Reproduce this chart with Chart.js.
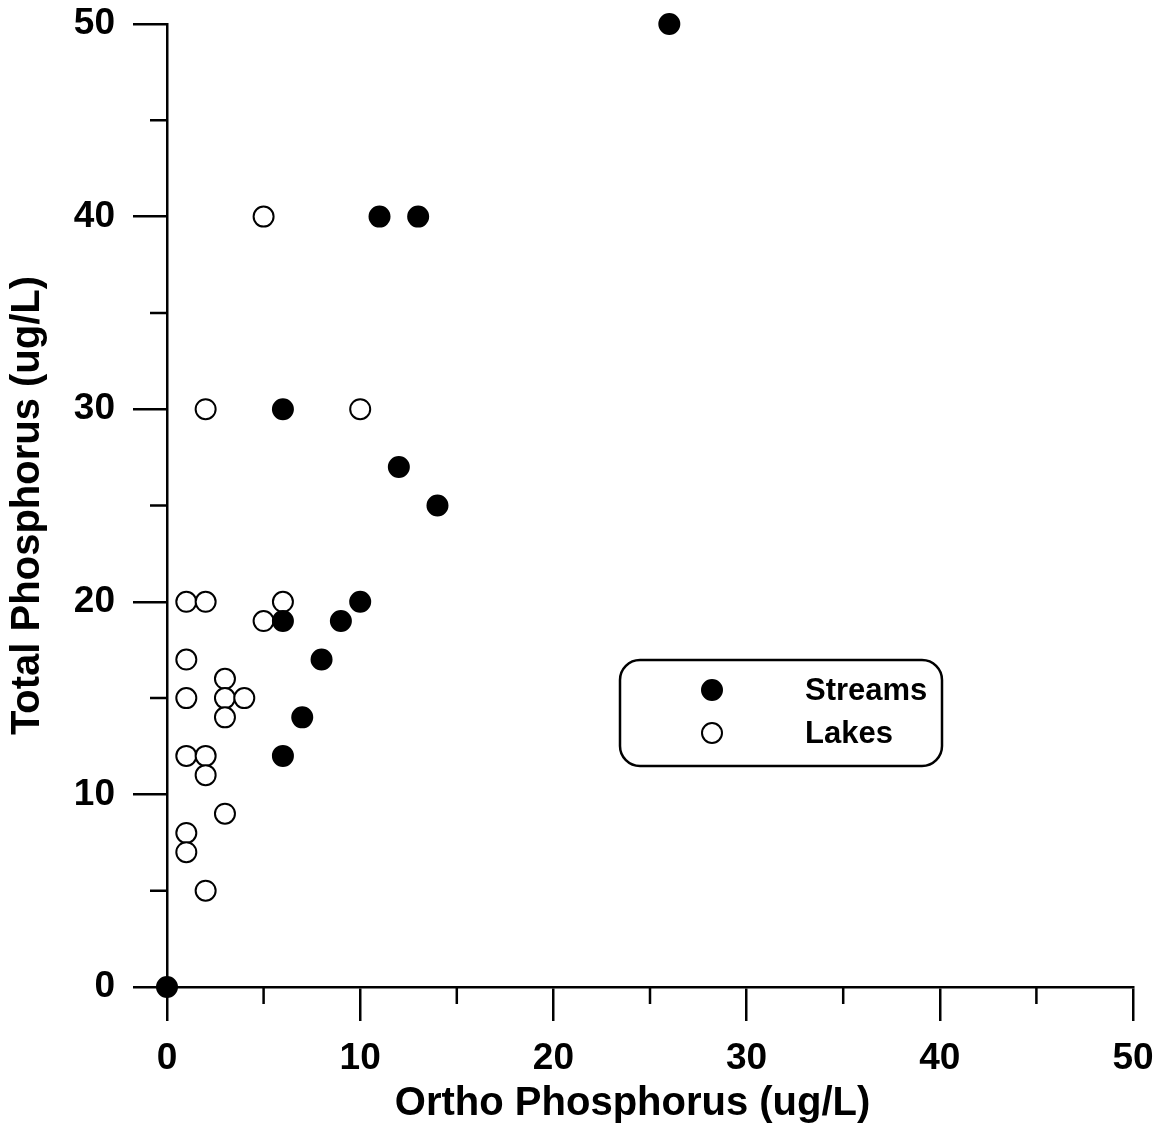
<!DOCTYPE html>
<html lang="en">
<head>
  <meta charset="UTF-8">
  <title>Ortho vs Total Phosphorus</title>
  <style>
    html, body { margin: 0; padding: 0; background: #fff; }
  </style>
</head>
<body>
  <canvas id="myChart" width="1164" height="1128"></canvas>

  <script src="https://cdn.jsdelivr.net/npm/chart.js"></script>
  <script>
    // data
    const seriesNames = ['Streams', 'Lakes'];
    const streamsX = [0, 26, 11, 13, 6, 12, 14, 10, 6, 9, 8, 7, 6];
    const streamsY = [0, 50, 40, 40, 30, 27, 25, 20, 19, 19, 17, 14, 12];
    const lakesX = [5, 2, 10, 1, 2, 6, 5, 1, 3, 1, 3, 4, 3, 1, 2, 2, 3, 1, 1, 2];
    const lakesY = [40, 30, 30, 20, 20, 20, 19, 17, 16, 15, 15, 15, 14, 12, 12, 11, 9, 8, 7, 5];
    const majorTicks = [0, 10, 20, 30, 40, 50];
    const minorTicks = [5, 15, 25, 35, 45];
    const xTitle = 'Ortho Phosphorus (ug/L)';
    const yTitle = 'Total Phosphorus (ug/L)';

    const toPoints = (xs, ys) => xs.map((x, i) => ({ x: x, y: ys[i] }));

    const FONT = '"Liberation Sans", Arial, sans-serif';

    // short ticks at the half steps, both axes
    const minorTickPlugin = {
      id: 'minorTicks',
      afterDraw(chart) {
        const { ctx, chartArea, scales } = chart;
        ctx.save();
        ctx.strokeStyle = '#000';
        ctx.lineWidth = 2.5;
        ctx.beginPath();
        minorTicks.forEach(v => {
          const px = scales.x.getPixelForValue(v);
          ctx.moveTo(px, chartArea.bottom);
          ctx.lineTo(px, chartArea.bottom + 17);
          const py = scales.y.getPixelForValue(v);
          ctx.moveTo(chartArea.left, py);
          ctx.lineTo(chartArea.left - 17, py);
        });
        ctx.stroke();
        ctx.restore();
      }
    };

    // x title sits a bit left of the plot centre in the original
    const xTitlePlugin = {
      id: 'xTitle',
      afterDraw(chart) {
        const { ctx, scales } = chart;
        ctx.save();
        ctx.font = 'bold 40px ' + FONT;
        ctx.fillStyle = '#000';
        ctx.textAlign = 'center';
        ctx.textBaseline = 'middle';
        ctx.fillText(xTitle, scales.x.getPixelForValue(24.1), 1104);
        ctx.restore();
      }
    };

    // boxed legend inside the plot
    const boxLegendPlugin = {
      id: 'boxLegend',
      afterDraw(chart) {
        const { ctx } = chart;
        const bx = 620, by = 660, bw = 322, bh = 106;
        ctx.save();
        ctx.lineWidth = 2.5;
        ctx.strokeStyle = '#000';
        ctx.beginPath();
        ctx.roundRect(bx, by, bw, bh, 20);
        ctx.stroke();

        ctx.font = 'bold 31px ' + FONT;
        ctx.textBaseline = 'middle';
        ctx.textAlign = 'left';
        chart.data.datasets.forEach((ds, i) => {
          const cy = by + 30 + i * 43;
          ctx.beginPath();
          ctx.arc(bx + 92, cy, 10, 0, Math.PI * 2);
          ctx.fillStyle = ds.backgroundColor;
          ctx.fill();
          ctx.lineWidth = 2;
          ctx.stroke();
          ctx.fillStyle = '#000';
          ctx.fillText(ds.label, bx + 185, cy + 1);
        });
        ctx.restore();
      }
    };

    const ctx = document.getElementById('myChart');
    const myChart = new Chart(ctx, {
      type: 'scatter',
      data: {
        datasets: [
          {
            label: seriesNames[0],
            data: toPoints(streamsX, streamsY),
            backgroundColor: '#000',
            borderColor: '#000',
            borderWidth: 2,
            pointRadius: 10,
            clip: false
          },
          {
            label: seriesNames[1],
            data: toPoints(lakesX, lakesY),
            backgroundColor: '#fff',
            borderColor: '#000',
            borderWidth: 2,
            pointRadius: 10,
            clip: false
          }
        ]
      },
      options: {
        responsive: false,
        animation: false,
        layout: { padding: { top: 24, right: 31, bottom: 0, left: 0 } },
        plugins: {
          legend: { display: false },
          tooltip: { enabled: false }
        },
        scales: {
          x: {
            type: 'linear',
            min: 0,
            max: 50,
            afterFit(scale) {
              scale.height = 141;
              scale.paddingLeft = 0;
              scale.paddingRight = 0;
            },
            afterBuildTicks(scale) { scale.ticks = majorTicks.map(v => ({ value: v })); },
            border: { display: true, color: '#000', width: 2.5 },
            grid: { drawOnChartArea: false, color: '#000', lineWidth: 2.5, tickLength: 34 },
            ticks: {
              color: '#000',
              padding: 16,
              maxRotation: 0,
              font: { family: FONT, size: 37, weight: 'bold' }
            },
            title: { display: false }
          },
          y: {
            type: 'linear',
            min: 0,
            max: 50,
            afterFit(scale) {
              scale.width = 167;
              scale.paddingTop = 0;
              scale.paddingBottom = 0;
            },
            afterBuildTicks(scale) { scale.ticks = majorTicks.map(v => ({ value: v })); },
            border: { display: true, color: '#000', width: 2.5 },
            grid: { drawOnChartArea: false, color: '#000', lineWidth: 2.5, tickLength: 34 },
            ticks: {
              color: '#000',
              padding: 18,
              font: { family: FONT, size: 37, weight: 'bold' }
            },
            title: {
              display: true,
              text: yTitle,
              color: '#000',
              padding: { top: 4, bottom: 0 },
              font: { family: FONT, size: 40, weight: 'bold' }
            }
          }
        }
      },
      plugins: [minorTickPlugin, xTitlePlugin, boxLegendPlugin]
    });
  </script>
</body>
</html>
